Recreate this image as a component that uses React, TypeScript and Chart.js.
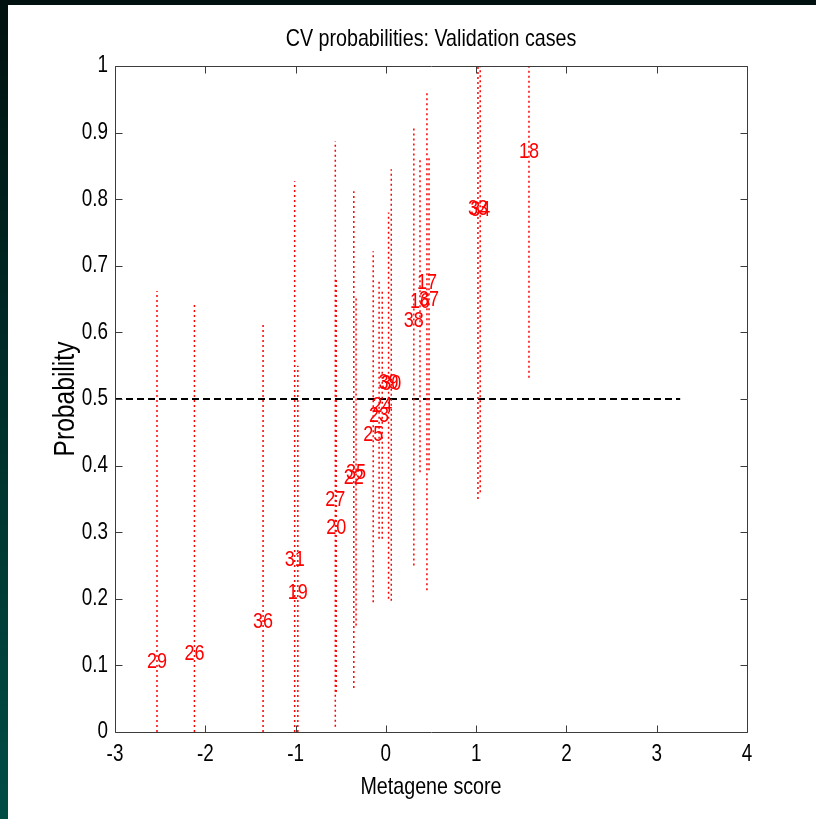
import React, { useEffect, useRef } from "react";
import { Chart, registerables } from "chart.js";

Chart.register(...registerables);

// ---- Data ----
const caseLabels = ["29", "26", "36", "31", "19", "27", "20", "22", "35", "25", "23", "24", "39", "30", "38", "16", "17", "37", "33", "34", "18"];
const metageneScores = [-2.535, -2.12, -1.36, -1.01, -0.975, -0.56, -0.55, -0.355, -0.33, -0.14, -0.075, -0.04, 0.03, 0.06, 0.31, 0.378, 0.455, 0.478, 1.02, 1.045, 1.585];
const probabilities = [0.105, 0.117, 0.165, 0.258, 0.209, 0.348, 0.306, 0.381, 0.389, 0.446, 0.475, 0.49, 0.524, 0.522, 0.617, 0.645, 0.675, 0.648, 0.786, 0.784, 0.871];
const lowerBounds = [0, 0, 0, 0, 0, 0.008, 0.06, 0.066, 0.16, 0.195, 0.29, 0.29, 0.2, 0.197, 0.25, 0.39, 0.213, 0.393, 0.35, 0.36, 0.532];
const upperBounds = [0.662, 0.643, 0.615, 0.827, 0.55, 0.887, 0.68, 0.812, 0.655, 0.722, 0.68, 0.665, 0.78, 0.845, 0.907, 0.86, 0.962, 0.866, 1, 1, 1];
const thresholdX = [-3, 3.26];
const thresholdY = 0.5;
const xTicks = [-3, -2, -1, 0, 1, 2, 3, 4];
const yTicks = [0, 0.1, 0.2, 0.3, 0.4, 0.5, 0.6, 0.7, 0.8, 0.9, 1];
const yTickLabels = ["0", "0.1", "0.2", "0.3", "0.4", "0.5", "0.6", "0.7", "0.8", "0.9", "1"];
const xTickLabels = ["-3", "-2", "-1", "0", "1", "2", "3", "4"];
const chartTitle = "CV probabilities: Validation cases";
const xTitle = "Metagene score";
const yTitle = "Probability";

const FONT = "'Liberation Sans', Arial, Helvetica, sans-serif";
const NARROW = 0.82; // horizontal squeeze to mimic the narrow X11 Helvetica

function narrowText(
  ctx: CanvasRenderingContext2D,
  text: string,
  x: number,
  y: number,
  size: number,
  align: CanvasTextAlign,
  color: string,
  rotation = 0
) {
  ctx.save();
  ctx.translate(x, y);
  if (rotation) ctx.rotate(rotation);
  ctx.scale(NARROW, 1);
  ctx.font = `${size}px ${FONT}`;
  ctx.fillStyle = color;
  ctx.textAlign = align;
  ctx.textBaseline = "middle";
  ctx.fillText(text, 0, 0);
  ctx.restore();
}

const framePlugin = {
  id: "frameTicks",
  afterDatasetsDraw(chart: any) {
    const { ctx, chartArea: a, scales } = chart;
    const L = Math.round(a.left) + 0.5;
    const R = Math.round(a.right) + 0.5;
    const T = Math.round(a.top) + 0.5;
    const B = Math.round(a.bottom) + 0.5;
    const len = 7;
    ctx.save();
    ctx.strokeStyle = "#3c3c3c";
    ctx.lineWidth = 1;
    ctx.beginPath();
    ctx.rect(L, T, R - L, B - T);
    xTicks.forEach((v) => {
      const px = Math.round(scales.x.getPixelForValue(v)) + 0.5;
      ctx.moveTo(px, B);
      ctx.lineTo(px, B - len);
      ctx.moveTo(px, T);
      ctx.lineTo(px, T + len);
    });
    yTicks.forEach((v) => {
      const py = Math.round(scales.y.getPixelForValue(v)) + 0.5;
      ctx.moveTo(L, py);
      ctx.lineTo(L + len, py);
      ctx.moveTo(R, py);
      ctx.lineTo(R - len, py);
    });
    ctx.stroke();
    ctx.restore();

    // tick labels and titles, positioned from the scales
    xTicks.forEach((v, i) => {
      narrowText(ctx, xTickLabels[i], scales.x.getPixelForValue(v), a.bottom + 23, 23, "center", "#000");
    });
    yTicks.forEach((v, i) => {
      narrowText(ctx, yTickLabels[i], a.left - 7, scales.y.getPixelForValue(v), 23, "right", "#000");
    });
    const cx = (a.left + a.right) / 2;
    const cy = (a.top + a.bottom) / 2;
    narrowText(ctx, chartTitle, cx, a.top - 27, 24, "center", "#000");
    narrowText(ctx, xTitle, cx, a.bottom + 55, 24, "center", "#000");
    narrowText(ctx, yTitle, a.left - 49, cy, 30, "center", "#000", -Math.PI / 2);
  },
};

const labelPlugin = {
  id: "caseLabels",
  afterDatasetsDraw(chart: any) {
    const { ctx, scales } = chart;
    caseLabels.forEach((lab, i) => {
      const x = scales.x.getPixelForValue(metageneScores[i]);
      const y = scales.y.getPixelForValue(probabilities[i]);
      narrowText(ctx, lab, x, y, 22, "center", "#ff0000");
    });
  },
};

export default function App() {
  const ref = useRef<HTMLCanvasElement | null>(null);

  useEffect(() => {
    document.body.style.margin = "0";
    const canvas = ref.current;
    if (!canvas) return;

    const intervalSets = caseLabels.map((lab, i) => ({
      label: "case " + lab,
      data: [
        { x: metageneScores[i], y: lowerBounds[i] },
        { x: metageneScores[i], y: upperBounds[i] },
      ],
      showLine: true,
      borderColor: "#ff0000",
      borderWidth: 1.5,
      borderDash: [2, 3],
      pointRadius: 0,
      fill: false,
    }));

    const chart = new Chart(canvas, {
      type: "scatter",
      data: {
        datasets: [
          ...intervalSets,
          {
            label: "threshold",
            data: thresholdX.map((x) => ({ x, y: thresholdY })),
            showLine: true,
            borderColor: "#000000",
            borderWidth: 2,
            borderDash: [7, 4],
            pointRadius: 0,
            fill: false,
          },
          {
            label: "points",
            data: caseLabels.map((_, i) => ({ x: metageneScores[i], y: probabilities[i] })),
            pointRadius: 0,
            showLine: false,
          },
        ] as any,
      },
      options: {
        animation: false,
        responsive: false,
        maintainAspectRatio: false,
        layout: { padding: { left: 0, right: 69, top: 61, bottom: 0 } },
        plugins: {
          legend: { display: false },
          tooltip: { enabled: false },
          title: { display: false },
        },
        scales: {
          x: {
            type: "linear",
            min: -3,
            max: 4,
            afterBuildTicks: (s: any) => {
              s.ticks = xTicks.map((v) => ({ value: v }));
            },
            afterFit: (s: any) => {
              s.height = 87;
            },
            grid: { display: false },
            border: { display: false },
            ticks: { display: false },
            title: { display: false },
          },
          y: {
            type: "linear",
            min: 0,
            max: 1,
            afterBuildTicks: (s: any) => {
              s.ticks = yTicks.map((v) => ({ value: v }));
            },
            afterFit: (s: any) => {
              s.width = 107;
            },
            grid: { display: false },
            border: { display: false },
            ticks: { display: false },
            title: { display: false },
          },
        },
      } as any,
      plugins: [framePlugin, labelPlugin],
    });

    return () => chart.destroy();
  }, []);

  return (
    <div
      style={{
        position: "fixed",
        left: 0,
        top: 0,
        width: 816,
        height: 819,
        background: "linear-gradient(to bottom, #00110f, #004d46)",
        overflow: "hidden",
      }}
    >
      <canvas
        ref={ref}
        width={808}
        height={814}
        style={{ position: "absolute", left: 8, top: 5, width: 808, height: 814, background: "#ffffff" }}
      />
    </div>
  );
}
